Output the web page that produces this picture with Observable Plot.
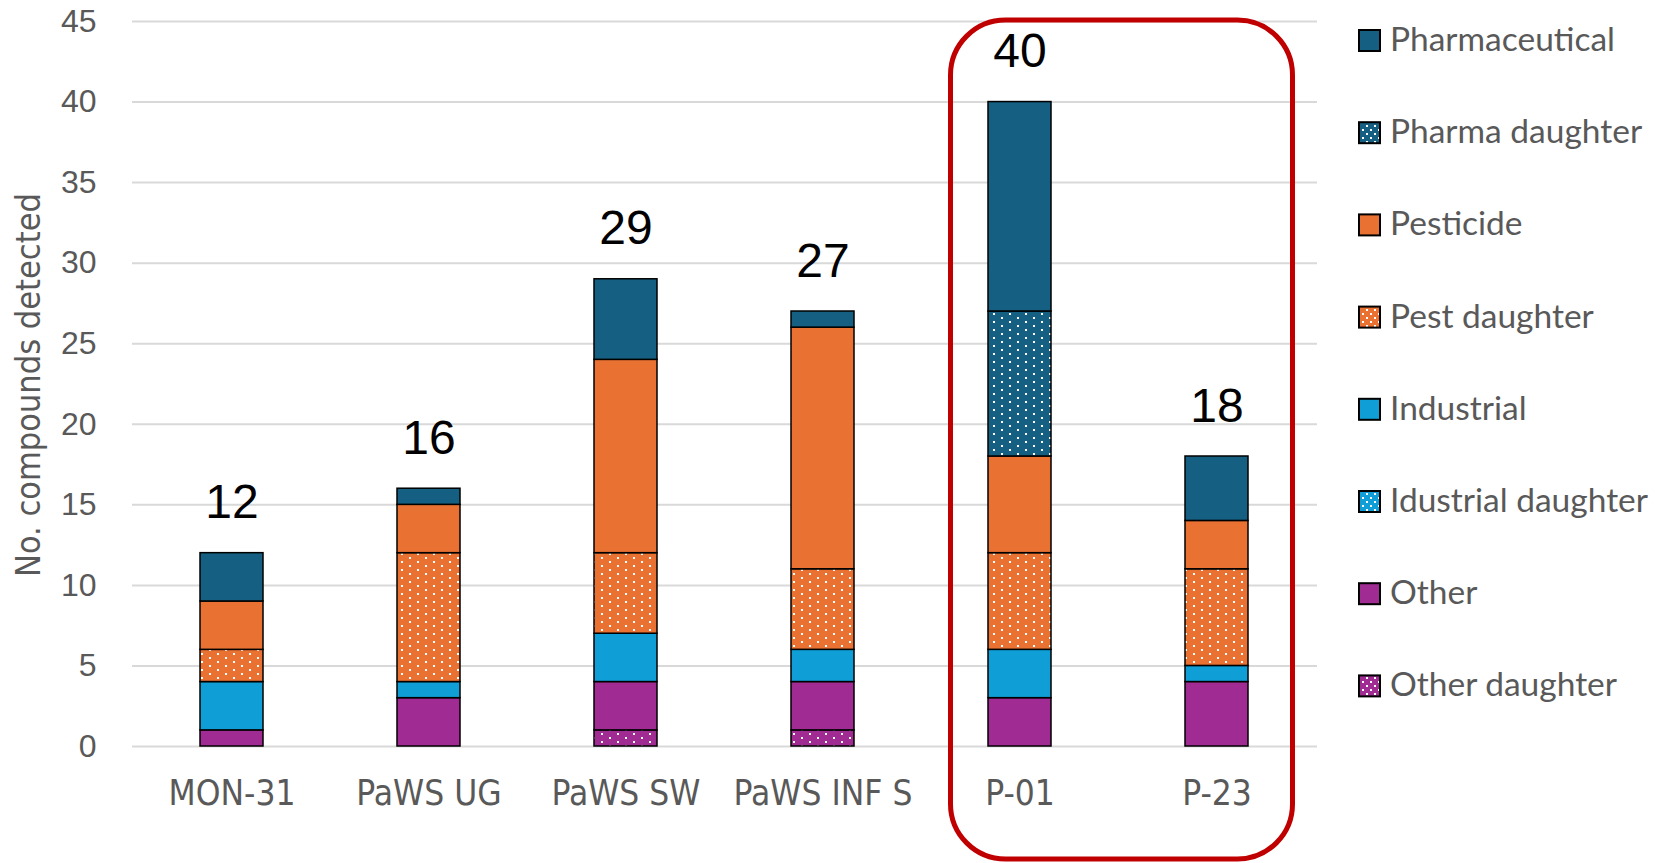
<!DOCTYPE html>
<html>
<head>
<meta charset="utf-8">
<script src="https://cdn.jsdelivr.net/npm/d3@7"></script>
<script src="https://cdn.jsdelivr.net/npm/@observablehq/plot@0.6"></script>
<style>
  html, body { margin: 0; padding: 0; background: #fff; }
  #chart { position: relative; width: 1655px; height: 863px; }
</style>
</head>
<body>
<div id="chart"></div>
<script>
// ---- Data ----
const sites = ["MON-31", "PaWS UG", "PaWS SW", "PaWS INF S", "P-01", "P-23"];
// stack order, bottom to top
const categories = ["Other daughter", "Other", "Idustrial daughter", "Industrial",
                    "Pest daughter", "Pesticide", "Pharma daughter", "Pharmaceutical"];
const otherDaughter      = [0, 0, 1, 1, 0, 0];
const other              = [1, 3, 3, 3, 3, 4];
const industrialDaughter = [0, 0, 0, 0, 0, 0];
const industrial         = [3, 1, 3, 2, 3, 1];
const pestDaughter       = [2, 8, 5, 5, 6, 6];
const pesticide          = [3, 3, 12, 15, 6, 3];
const pharmaDaughter     = [0, 0, 0, 0, 9, 0];
const pharmaceutical     = [3, 1, 5, 1, 13, 4];
const yTicks = [0, 5, 10, 15, 20, 25, 30, 35, 40, 45];

const series = [otherDaughter, other, industrialDaughter, industrial,
                pestDaughter, pesticide, pharmaDaughter, pharmaceutical];

// ---- Styles ----
const baseColors = {
  "Other daughter": "#A02B93", "Other": "#A02B93",
  "Idustrial daughter": "#0F9ED5", "Industrial": "#0F9ED5",
  "Pest daughter": "#E97132", "Pesticide": "#E97132",
  "Pharma daughter": "#156082", "Pharmaceutical": "#156082"
};
const isDotted = c => c.includes("daughter");
const patId = c => "pat-" + c.replace(/\s+/g, "-").toLowerCase();
const fills = categories.map(c => isDotted(c) ? `url(#${patId(c)})` : baseColors[c]);

const rows = [];
sites.forEach((s, i) => {
  categories.forEach((c, k) => {
    const v = series[k][i];
    if (v > 0) rows.push({site: s, category: c, value: v});
  });
});

const narrow = "'Liberation Sans Narrow', 'DejaVu Sans Condensed', 'Arial Narrow', sans-serif";

// Red highlight box around P-01 and P-23 (annotation)
function redBox(index, scales, channels, dims) {
  const bw = scales.x.bandwidth();
  const c1 = scales.x("P-01") + bw / 2;
  const c2 = scales.x("P-23") + bw / 2;
  const left = c1 - 69, right = c2 + 76;
  const top = scales.y(45) - 1;
  const bottom = dims.height - 4;
  const g = d3.create("svg:g");
  g.append("rect")
    .attr("x", left).attr("y", top)
    .attr("width", right - left).attr("height", bottom - top)
    .attr("rx", 55).attr("ry", 55)
    .attr("fill", "none").attr("stroke", "#C00000").attr("stroke-width", 5);
  return g.node();
}

const plot = Plot.plot({
  width: 1655,
  height: 863,
  marginLeft: 132,
  marginRight: 338,
  marginTop: 21,
  marginBottom: 117,
  style: {background: "#fff", fontFamily: "'Liberation Sans', Arial, sans-serif"},
  x: {domain: sites, paddingInner: 0.68, paddingOuter: 0.34, label: null},
  y: {domain: [0, 45], label: null},
  color: {type: "ordinal", domain: categories, range: fills},
  marks: [
    Plot.gridY(yTicks, {stroke: "#d9d9d9", strokeOpacity: 1, strokeWidth: 2}),
    Plot.axisY(yTicks, {tickSize: 0, tickPadding: 36, fontSize: 32, fill: "#595959", label: null}),
    Plot.axisX({tickSize: 0, tickPadding: 34, fontSize: 35, fill: "#595959", label: null,
                fontFamily: narrow}),
    Plot.barY(rows, {x: "site", y: "value", fill: "category", stroke: "#000", strokeWidth: 1.5}),
    Plot.text(rows, Plot.groupX({y: "sum", text: "sum"},
      {x: "site", y: "value", text: "value", lineAnchor: "bottom", dy: -35, fontSize: 48, fill: "#000"})),
    redBox
  ]
});

const svg = d3.select(plot);

// pattern definitions
const defs = svg.insert("defs", ":first-child");
categories.filter(isDotted).forEach(c => {
  const p = defs.append("pattern").attr("id", patId(c))
    .attr("patternUnits", "userSpaceOnUse").attr("width", 16).attr("height", 8);
  p.append("rect").attr("width", 16).attr("height", 8).attr("fill", baseColors[c]);
  p.append("rect").attr("x", 1).attr("y", 1).attr("width", 2).attr("height", 2).attr("fill", "#fff");
  p.append("rect").attr("x", 9).attr("y", 5).attr("width", 2).attr("height", 2).attr("fill", "#fff");
});
// legend swatch patterns (smaller)
categories.filter(isDotted).forEach(c => {
  const p = defs.append("pattern").attr("id", patId(c) + "-lg")
    .attr("patternUnits", "userSpaceOnUse").attr("width", 8).attr("height", 8);
  p.append("rect").attr("width", 8).attr("height", 8).attr("fill", baseColors[c]);
  p.append("rect").attr("x", 2).attr("y", 1).attr("width", 2).attr("height", 2).attr("fill", "#fff");
  p.append("rect").attr("x", 6).attr("y", 5).attr("width", 2).attr("height", 2).attr("fill", "#fff");
});

// y-axis title
svg.append("text")
  .attr("transform", "translate(30,385) rotate(-90)")
  .attr("text-anchor", "middle")
  .attr("dominant-baseline", "middle")
  .attr("font-family", narrow)
  .attr("font-size", 34)
  .attr("fill", "#595959")
  .text("No. compounds detected");

// legend (top to bottom = reverse stack order)
const legendItems = categories.slice().reverse();
const lg = svg.append("g").attr("font-family", "Lato, 'Open Sans', sans-serif")
  .attr("text-anchor", "start");
legendItems.forEach((c, i) => {
  const yy = 30 + i * 92.2;
  lg.append("rect").attr("x", 1359).attr("y", yy).attr("width", 21).attr("height", 21)
    .attr("fill", isDotted(c) ? `url(#${patId(c)}-lg)` : baseColors[c])
    .attr("stroke", "#000").attr("stroke-width", 2);
  lg.append("text").attr("x", 1390).attr("y", yy + 21)
    .attr("text-anchor", "start")
    .attr("font-size", 33.5).attr("fill", "#595959").text(c);
});

document.getElementById("chart").appendChild(plot);
</script>
</body>
</html>
